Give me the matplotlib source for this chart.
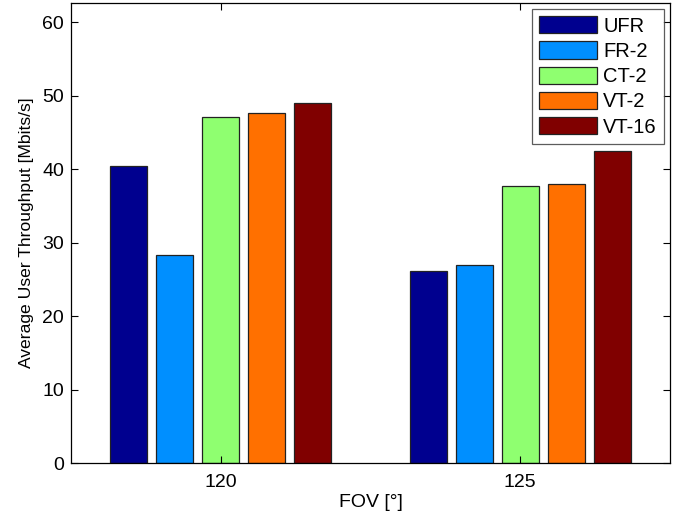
import numpy as np
import matplotlib
matplotlib.use('Agg')
import matplotlib.pyplot as plt

plt.rcParams['font.family'] = ['Liberation Sans', 'DejaVu Sans']

fov = ['120', '125']
schemes = ['UFR', 'FR-2', 'CT-2', 'VT-2', 'VT-16']
ufr = [40.4, 26.1]
fr2 = [28.3, 27.0]
ct2 = [47.1, 37.7]
vt2 = [47.6, 38.0]
vt16 = [49.0, 42.4]
colorj = ['#00008f', '#008fff', '#8fff70', '#ff7000', '#800000']

series = [ufr, fr2, ct2, vt2, vt16]
n = len(series)
groupw = n / (n + 1.5)
step = groupw / n
barw = 0.8 * step
x = np.arange(1, len(fov) + 1)

fig = plt.figure(figsize=[6.86, 5.16], dpi=100)
ax = fig.add_axes([0.1035, 0.1027, 0.8732, 0.8915])
for i, vals in enumerate(series):
    offs = (i - (n - 1) / 2) * step
    ax.bar(x + offs, vals, width=barw, color=colorj[i], edgecolor='#222222',
           linewidth=0.9, label=schemes[i])

ax.set_xlim(0.5, 2.5)
ax.set_ylim(0, 62.6)
ax.set_yticks(range(0, 61, 10))
ax.set_xticks(x)
ax.set_xticklabels(fov)
ax.tick_params(direction='in', top=True, right=True, labelsize=14, length=5, width=0.8)
ax.tick_params(axis='x', pad=8)
ax.tick_params(axis='y', pad=5)
for s in ax.spines.values():
    s.set_linewidth(0.9)

ax.set_xlabel(u'FOV [\u00b0]', fontsize=14, labelpad=2)
ax.set_ylabel('Average User Throughput [Mbits/s]', fontsize=12.6, labelpad=6)

leg = ax.legend(loc='upper right', fontsize=14.5, fancybox=False, edgecolor='#333333',
                handlelength=2.9, handleheight=0.95, borderaxespad=0.3, labelspacing=0.28,
                handletextpad=0.3, borderpad=0.35)
leg.get_frame().set_linewidth(0.9)

fig.savefig('out.png', dpi=100)
